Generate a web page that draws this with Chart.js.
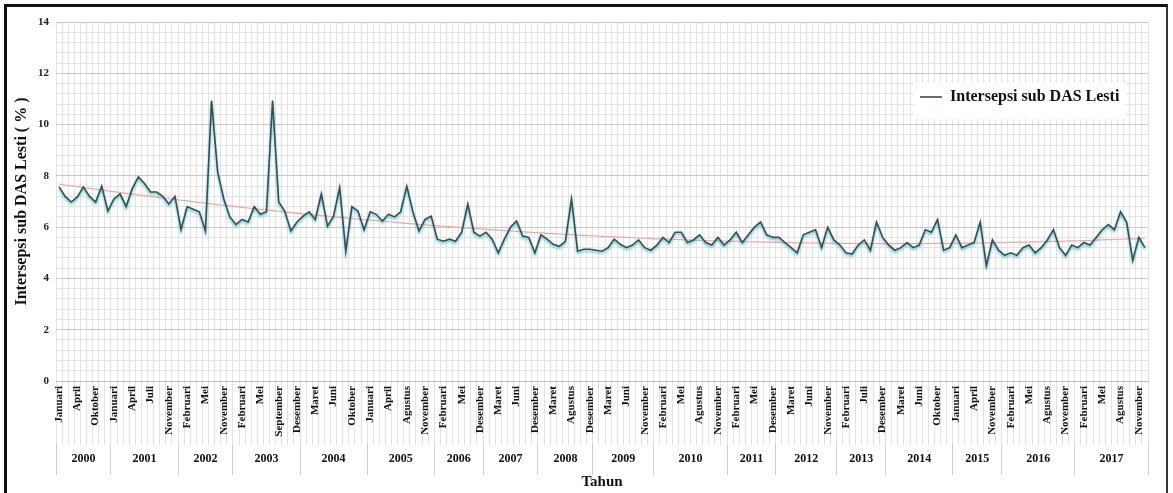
<!DOCTYPE html>
<html>
<head>
<meta charset="utf-8">
<script src="https://cdn.jsdelivr.net/npm/chart.js@4.4.1/dist/chart.umd.min.js"></script>
<style>
  html, body { margin: 0; padding: 0; background: #fff; }
  #wrap { position: relative; width: 1173px; height: 493px; }
  #wrap canvas { position: absolute; left: 0; top: 0; }
  #frame {
    position: absolute; left: 4px; top: 4px; width: 1164px; height: 489px;
    border-top: 3px solid #111; border-left: 3px solid #111; border-right: 2px solid #333;
    box-sizing: border-box; pointer-events: none;
  }
</style>
</head>
<body>
<div id="wrap">
  <canvas id="grafik" width="1173" height="493"></canvas>
  <div id="frame"></div>
</div>
<script>
// Bulan pengamatan (urut), tahun, dan jumlah bulan tercatat per tahun
const bulan = [
  // 2000
  'Januari','Februari','Maret','April','Juni','Agustus','Oktober','November','Desember',
  // 2001
  'Januari','Februari','Maret','April','Mei','Juni','Juli','Agustus','Oktober','November','Desember',
  // 2002
  'Januari','Februari','Maret','April','Mei','Juli','September','November','Desember',
  // 2003
  'Januari','Februari','Maret','April','Mei','Juni','Agustus','September','Oktober','November','Desember',
  // 2004
  'Januari','Februari','Maret','April','Mei','Juni','Juli','September','Oktober','November','Desember',
  // 2005
  'Januari','Februari','Maret','April','Mei','Juli','Agustus','September','Oktober','November','Desember',
  // 2006
  'Januari','Februari','Maret','April','Mei','Juli','Oktober','Desember',
  // 2007
  'Januari','Februari','Maret','April','Mei','Juni','Agustus','Oktober','Desember',
  // 2008
  'Januari','Februari','Maret','Mei','Juni','Agustus','September','November','Desember',
  // 2009
  'Januari','Februari','Maret','April','Mei','Juni','Agustus','Oktober','November','Desember',
  // 2010
  'Januari','Februari','Maret','April','Mei','Juni','Juli','Agustus','September','Oktober','November','Desember',
  // 2011
  'Januari','Februari','Maret','April','Mei','Juli','Oktober','Desember',
  // 2012
  'Januari','Februari','Maret','April','Mei','Juni','Agustus','Oktober','November','Desember',
  // 2013
  'Januari','Februari','April','Mei','Juli','September','Oktober','Desember',
  // 2014
  'Januari','Februari','Maret','April','Mei','Juni','Agustus','September','Oktober','November','Desember',
  // 2015
  'Januari','Februari','Maret','April','Juni','Agustus','November','Desember',
  // 2016
  'Januari','Februari','Maret','April','Mei','Juni','Juli','Agustus','September','Oktober','November','Desember',
  // 2017
  'Januari','Februari','Maret','April','Mei','Juni','Juli','Agustus','September','Oktober','November','Desember'
];

const tahunLabel = ['2000','2001','2002','2003','2004','2005','2006','2007','2008',
                    '2009','2010','2011','2012','2013','2014','2015','2016','2017'];
const jumlahBulan = [9, 11, 9, 11, 11, 11, 8, 9, 9, 10, 12, 8, 10, 8, 11, 8, 12, 12];

// Intersepsi bulanan sub DAS Lesti (%)
const intersepsi = [
  // 2000
  7.57, 7.2, 6.98, 7.18, 7.57, 7.2, 6.98, 7.6, 6.63,
  // 2001
  7.1, 7.3, 6.8, 7.5, 7.96, 7.7, 7.37, 7.37, 7.2, 6.9, 7.2,
  // 2002
  5.9, 6.8, 6.7, 6.6, 5.85, 10.94, 8.15, 7.1, 6.4,
  // 2003
  6.1, 6.3, 6.2, 6.8, 6.5, 6.6, 10.94, 6.98, 6.63, 5.85, 6.2,
  // 2004
  6.43, 6.6, 6.3, 7.3, 6.04, 6.43, 7.55, 5.06, 6.8, 6.63, 5.9,
  // 2005
  6.6, 6.5, 6.24, 6.5, 6.4, 6.6, 7.6, 6.6, 5.85, 6.3, 6.43,
  // 2006
  5.53, 5.45, 5.53, 5.45, 5.8, 6.9, 5.8, 5.65,
  // 2007
  5.8, 5.53, 5.0, 5.53, 6.0, 6.24, 5.65, 5.6, 5.0,
  // 2008
  5.7, 5.53, 5.33, 5.25, 5.45, 7.1, 5.06, 5.14, 5.14,
  // 2009
  5.1, 5.06, 5.2, 5.53, 5.33, 5.2, 5.3, 5.5, 5.2, 5.1,
  // 2010
  5.3, 5.6, 5.4, 5.8, 5.8, 5.4, 5.5, 5.7, 5.4, 5.3, 5.6, 5.3,
  // 2011
  5.5, 5.8, 5.4, 5.7, 6.0, 6.2, 5.7, 5.6,
  // 2012
  5.6, 5.4, 5.2, 5.0, 5.7, 5.8, 5.9, 5.2, 6.0, 5.5,
  // 2013
  5.3, 5.0, 4.95, 5.3, 5.5, 5.1, 6.2, 5.6,
  // 2014
  5.3, 5.1, 5.2, 5.4, 5.2, 5.3, 5.9, 5.8, 6.3, 5.1, 5.2,
  // 2015
  5.7, 5.2, 5.3, 5.4, 6.2, 4.5, 5.5, 5.1,
  // 2016
  4.9, 5.0, 4.9, 5.2, 5.3, 5.0, 5.2, 5.5, 5.9, 5.2, 4.9, 5.3,
  // 2017
  5.2, 5.4, 5.3, 5.6, 5.9, 6.1, 5.9, 6.6, 6.2, 4.7, 5.6, 5.2
];

const sumbuY = { min: 0, max: 14, langkahMinor: 0.4, langkahLabel: 2 };
const judulSeri = 'Intersepsi sub DAS Lesti';
const judulY = 'Intersepsi sub DAS Lesti ( % )';
const judulX = 'Tahun';

// Garis tren polinomial orde 2 (kuadrat terkecil, x = 1..n)
function trenPolinomial2(ys) {
  const n = ys.length;
  const S = [0, 0, 0, 0, 0], T = [0, 0, 0];
  for (let i = 0; i < n; i++) {
    const x = i + 1;
    let p = 1;
    for (let k = 0; k < 5; k++) {
      S[k] += p;
      if (k < 3) T[k] += p * ys[i];
      p *= x;
    }
  }
  const A = [[S[0], S[1], S[2], T[0]], [S[1], S[2], S[3], T[1]], [S[2], S[3], S[4], T[2]]];
  for (let c = 0; c < 3; c++) {
    for (let r = c + 1; r < 3; r++) {
      const f = A[r][c] / A[c][c];
      for (let k = c; k < 4; k++) A[r][k] -= f * A[c][k];
    }
  }
  const a = [0, 0, 0];
  for (let r = 2; r >= 0; r--) {
    let s = A[r][3];
    for (let k = r + 1; k < 3; k++) s -= A[r][k] * a[k];
    a[r] = s / A[r][r];
  }
  return ys.map((_, i) => a[0] + a[1] * (i + 1) + a[2] * (i + 1) * (i + 1));
}
const tren = trenPolinomial2(intersepsi);

// Batas & titik tengah setiap tahun pada sumbu kategori
const batasTahun = [];
const tengahTahun = [];
{
  let awal = 0;
  jumlahBulan.forEach((j) => {
    batasTahun.push(awal - 0.5);
    tengahTahun.push(awal + (j - 1) / 2);
    awal += j;
  });
  batasTahun.push(awal - 0.5);
}

const fontSerif = "'Liberation Serif', 'Times New Roman', serif";

// Bayangan biru muda di bawah garis seri
const bayanganGaris = {
  id: 'bayanganGaris',
  beforeDatasetDraw(chart, args) {
    if (args.index !== 0) return;
    const c = chart.ctx;
    c.save();
    c.shadowColor = 'rgba(70, 195, 215, 1)';
    c.shadowBlur = 2.5;
    c.shadowOffsetX = 0;
    c.shadowOffsetY = 2;
  },
  afterDatasetDraw(chart, args) {
    if (args.index !== 0) return;
    chart.ctx.restore();
  }
};

// Legenda di kanan atas area plot, dengan latar putih
const posisiLegenda = {
  id: 'posisiLegenda',
  beforeDraw(chart) {
    const lg = chart.legend;
    const area = chart.chartArea;
    if (!lg || !area) return;
    const w = lg.right - lg.left;
    const h = lg.bottom - lg.top;
    lg.left = area.right - 238;
    lg.right = lg.left + w;
    lg.top = area.top + 57;
    lg.bottom = lg.top + h;
  },
  beforeDatasetsDraw(chart) {
    const lg = chart.legend;
    if (!lg || !lg.columnSizes || !lg.columnSizes.length) return;
    const c = chart.ctx;
    const pad = lg.options.labels.padding;
    const col = lg.columnSizes[0];
    c.save();
    c.fillStyle = '#ffffff';
    c.fillRect(lg.left + pad - 6, lg.top + pad - 6, col.width + 12, col.height + 10);
    c.restore();
    lg.draw();
  }
};

new Chart(document.getElementById('grafik'), {
  type: 'line',
  data: {
    labels: bulan,
    datasets: [
      {
        label: judulSeri,
        data: intersepsi,
        borderColor: '#40494c',
        backgroundColor: '#40494c',
        borderWidth: 1.6,
        pointRadius: 0,
        tension: 0,
        fill: false
      },
      {
        label: 'Tren',
        data: tren,
        borderColor: '#f2a4a2',
        borderWidth: 1.2,
        pointRadius: 0,
        tension: 0,
        fill: false
      }
    ]
  },
  options: {
    responsive: false,
    animation: false,
    layout: { padding: { left: 12, right: 25, top: 22, bottom: 0 } },
    plugins: {
      legend: {
        position: 'chartArea',
        align: 'start',
        labels: {
          filter: (item) => item.datasetIndex === 0,
          usePointStyle: true,
          pointStyle: 'line',
          pointStyleWidth: 22,
          boxHeight: 10,
          color: '#111',
          padding: 10,
          font: { family: fontSerif, size: 16, weight: 'bold' }
        }
      },
      tooltip: { enabled: false }
    },
    scales: {
      x: {
        type: 'category',
        position: 'bottom',
        offset: true,
        grid: {
          offset: true,
          color: '#e2e2e2',
          lineWidth: 1,
          tickLength: 64,
          drawTicks: true
        },
        border: { color: '#bdbdbd' },
        ticks: {
          autoSkip: false,
          maxRotation: 90,
          minRotation: 90,
          padding: -59,
          color: '#111',
          font: { family: fontSerif, size: 11, weight: 'bold' },
          callback: (v, i) => (i % 3 === 0 ? bulan[i] : '')
        },
        afterFit: (s) => { s.height = 64; }
      },
      x2: {
        type: 'linear',
        position: 'bottom',
        min: -0.5,
        max: bulan.length - 0.5,
        grid: {
          drawOnChartArea: false,
          tickLength: 30,
          color: (c) => (c.tick && batasTahun.includes(c.tick.value) ? '#cfcfcf' : 'rgba(0,0,0,0)')
        },
        border: { display: false },
        afterBuildTicks: (s) => {
          const t = [];
          batasTahun.forEach((v) => t.push({ value: v }));
          tengahTahun.forEach((v) => t.push({ value: v }));
          t.sort((a, b) => a.value - b.value);
          s.ticks = t;
        },
        ticks: {
          autoSkip: false,
          maxRotation: 0,
          minRotation: 0,
          padding: -23,
          color: '#111',
          font: { family: fontSerif, size: 12, weight: 'bold' },
          callback: (v) => {
            const k = tengahTahun.indexOf(v);
            return k >= 0 ? tahunLabel[k] : '';
          }
        },
        title: {
          display: true,
          text: judulX,
          color: '#111',
          font: { family: fontSerif, size: 15, weight: 'bold' },
          padding: { top: 0, bottom: 2 }
        },
        afterFit: (s) => { s.height = 48; }
      },
      y: {
        min: sumbuY.min,
        max: sumbuY.max,
        grid: {
          color: (c) => {
            const v = Math.round(c.tick.value * 10) / 10;
            return v % sumbuY.langkahLabel === 0 ? '#c9c9c9' : '#e4e4e4';
          },
          drawTicks: false
        },
        border: { display: false },
        ticks: {
          stepSize: sumbuY.langkahMinor,
          autoSkip: false,
          padding: 7,
          color: '#222',
          font: { family: fontSerif, size: 11, weight: 'bold' },
          callback: (v) => {
            const r = Math.round(v * 10) / 10;
            return r % sumbuY.langkahLabel === 0 ? String(r) : '';
          }
        },
        title: {
          display: true,
          text: judulY,
          color: '#111',
          font: { family: fontSerif, size: 16, weight: 'bold' },
          padding: { top: 0, bottom: 4 }
        },
        afterFit: (s) => { s.width = 44; }
      }
    }
  },
  plugins: [bayanganGaris, posisiLegenda]
});
</script>
</body>
</html>
